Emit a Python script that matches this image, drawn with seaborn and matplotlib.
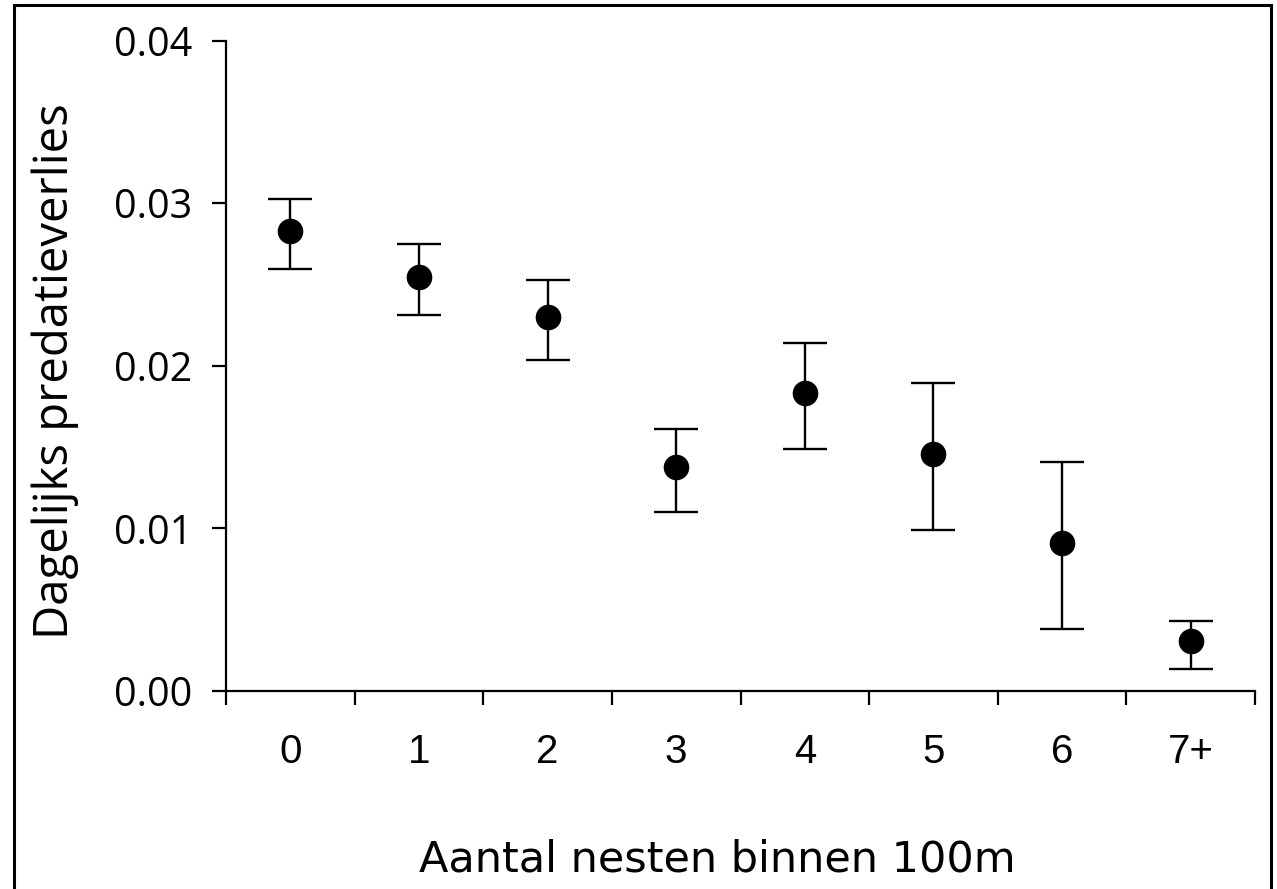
import matplotlib
matplotlib.use("Agg")
import matplotlib.pyplot as plt
from matplotlib.patches import Rectangle
import seaborn as sns
import numpy as np
import pandas as pd

categories = ["0", "1", "2", "3", "4", "5", "6", "7+"]
values = [0.02826, 0.02546, 0.02297, 0.01380, 0.01830, 0.01458, 0.00913, 0.00310]
upper = [0.03028, 0.02749, 0.02529, 0.01614, 0.02142, 0.01894, 0.01411, 0.00431]
lower = [0.02595, 0.02314, 0.02035, 0.01100, 0.01487, 0.00990, 0.00383, 0.00137]
yticks = [0.00, 0.01, 0.02, 0.03, 0.04]
ytick_labels = ["0.00", "0.01", "0.02", "0.03", "0.04"]
xlabel = "Aantal nesten binnen 100m"
ylabel = "Dagelijks predatieverlies"

df = pd.DataFrame({"cat": categories, "pos": np.arange(len(categories)),
                   "val": values, "hi": upper, "lo": lower})

sns.set_theme(style="white")
W, H = 1277, 889
fig = plt.figure(figsize=(W / 100, H / 100), dpi=100)
ax = fig.add_axes([226 / W, 1 - 691 / H, (1255 - 226) / W, (691 - 40.5) / H])

yerr = np.vstack([df["val"] - df["lo"], df["hi"] - df["val"]])
ax.errorbar(df["pos"], df["val"], yerr=yerr, fmt="none", ecolor="black",
            elinewidth=1.7, capsize=16, capthick=1.7, zorder=2)
sns.scatterplot(data=df, x="pos", y="val", ax=ax, color="black", s=340,
                edgecolor="black", linewidth=0, zorder=3, legend=False)

ax.set_xlim(-0.5, len(categories) - 0.5)
ax.set_ylim(0, 0.04)
ax.set_yticks(yticks)
ax.set_yticklabels(ytick_labels, fontfamily="Open Sans", fontsize=28.5)
ax.set_xticks(df["pos"])
ax.set_xticklabels(categories, fontfamily="Liberation Sans", fontsize=29)
ax.set_xticks(np.arange(-0.5, len(categories)), minor=True)
ax.tick_params(axis="x", which="major", length=0, pad=30, colors="black")
ax.tick_params(axis="x", which="minor", length=10, width=1.6, direction="out",
               bottom=True, colors="black")
ax.tick_params(axis="y", which="major", length=10, width=1.6, direction="out",
               left=True, pad=14, colors="black")

for side in ["top", "right"]:
    ax.spines[side].set_visible(False)
for side in ["left", "bottom"]:
    ax.spines[side].set_color("black")
    ax.spines[side].set_linewidth(1.6)

ax.set_xlabel("")
ax.set_ylabel("")
fig.text(717 / W, 1 - 860 / H, xlabel, ha="center", va="center",
         fontfamily="DejaVu Sans", fontsize=31, color="black")
fig.text(55 / W, 1 - 371 / H, ylabel, ha="center", va="center", rotation=90,
         fontfamily="Open Sans", fontsize=34, color="black")

fig.patches.append(Rectangle((14 / W, -0.05), (1271 - 14) / W, 1.05 - 5 / H,
                             transform=fig.transFigure, fill=False,
                             edgecolor="black", linewidth=2.2, clip_on=False))

fig.savefig("out.png", dpi=100, facecolor="white")
